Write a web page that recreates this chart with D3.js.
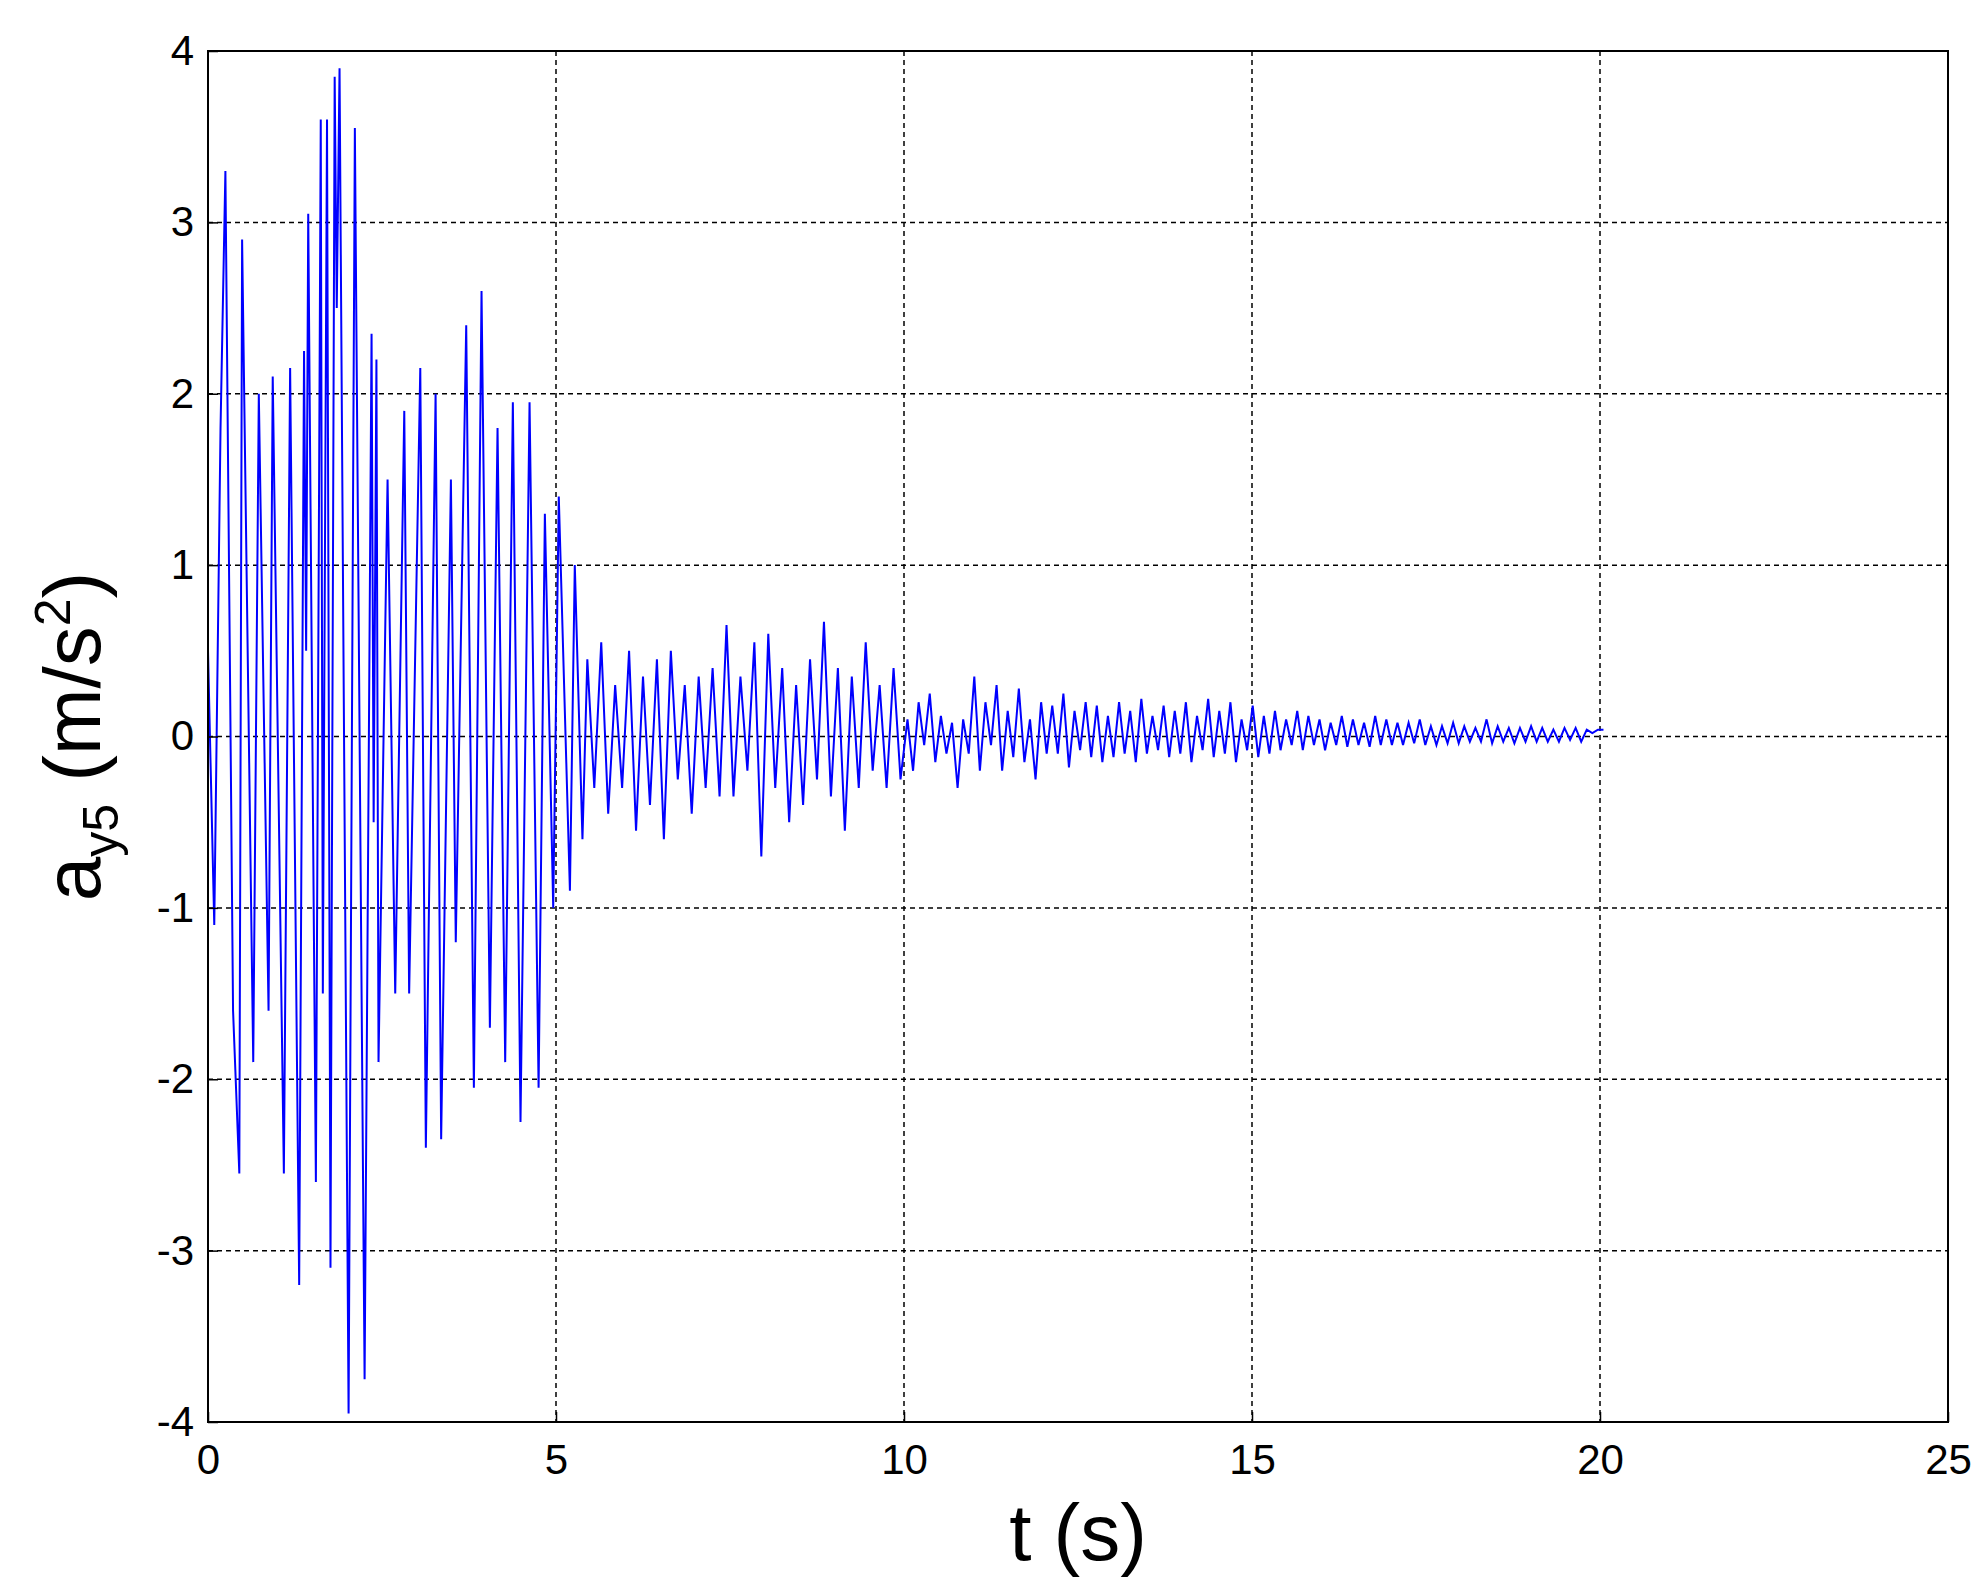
<!DOCTYPE html>
<html><head><meta charset="utf-8">
<script src="https://cdn.jsdelivr.net/npm/d3@7"></script>
<style>body{margin:0;background:#fff}</style></head>
<body><svg id="c" width="1986" height="1586"></svg>
<script>
const xTicks=[0,5,10,15,20,25];
const yTicks=[-4,-3,-2,-1,0,1,2,3,4];
// early strong phase (time, value) of extremes
const t1=[0,.09,.18,.25,.36,.45,.49,.65,.73,.87,.93,1.09,1.18,1.31,1.38,1.41,1.44,1.55,1.62,1.65,1.71,1.76,1.82,1.85,1.89,2.02,2.11,2.25,2.35,2.38,2.42,2.45,2.58,2.69,2.82,2.89,3.05,3.13,3.27,3.35,3.49,3.56,3.71,3.82,3.93,4.05,4.16,4.27,4.38,4.49,4.62,4.75,4.84,4.96,5.04,5.2,5.27,5.38];
const v1=[0.5,-1.1,1.8,3.3,-1.6,-2.55,2.9,-1.9,2.0,-1.6,2.1,-2.55,2.15,-3.2,2.25,0.5,3.05,-2.6,3.6,-1.5,3.6,-3.1,3.85,2.5,3.9,-3.95,3.55,-3.75,2.35,-0.5,2.2,-1.9,1.5,-1.5,1.9,-1.5,2.15,-2.4,2.0,-2.35,1.5,-1.2,2.4,-2.05,2.6,-1.7,1.8,-1.9,1.95,-2.25,1.95,-2.05,1.3,-1.0,1.4,-0.9,1.0,-0.6];
// decaying phase, 5.45 s to 10 s, step 0.1 s
const start2=5.45, step2=0.1;
const v2=[0.45,-0.3,0.55,-0.45,0.3,-0.3,0.5,-0.55,0.35,-0.4,0.45,-0.6,0.5,-0.25,0.3,-0.45,0.35,-0.3,0.4,-0.35,0.65,-0.35,0.35,-0.2,0.55,-0.7,0.6,-0.3,0.4,-0.5,0.3,-0.4,0.45,-0.25,0.67,-0.35,0.4,-0.55,0.35,-0.3,0.55,-0.2,0.3,-0.3,0.4,-0.25];
// tail, 10 s to 20.2 s, step 0.08 s
const start3=10.05, step3=0.08;
const v3=[0.1,-0.2,0.2,-0.05,0.25,-0.15,0.12,-0.1,0.08,-0.3,0.1,-0.1,0.35,-0.2,0.2,-0.05,0.3,-0.2,0.15,-0.12,0.28,-0.15,0.1,-0.25,0.2,-0.1,0.18,-0.1,0.25,-0.18,0.15,-0.08,0.2,-0.12,0.18,-0.15,0.12,-0.12,0.2,-0.1,0.15,-0.15,0.22,-0.1,0.12,-0.08,0.18,-0.12,0.15,-0.1,0.2,-0.15,0.12,-0.08,0.22,-0.12,0.15,-0.1,0.2,-0.15,0.1,-0.08,0.18,-0.12,0.12,-0.1,0.15,-0.08,0.1,-0.05,0.15,-0.08,0.12,-0.05,0.1,-0.08,0.08,-0.05,0.12,-0.06,0.1,-0.05,0.08,-0.06,0.12,-0.05,0.1,-0.05,0.08,-0.05,0.08,-0.04,0.1,-0.05,0.06,-0.05,0.06,-0.04,0.08,-0.04,0.06,-0.03,0.05,-0.03,0.1,-0.04,0.06,-0.03,0.05,-0.04,0.05,-0.03,0.06,-0.03,0.05,-0.03,0.04,-0.03,0.05,-0.02,0.05,-0.03,0.04,0.02,0.04,0.04];

const data=[];
t1.forEach((t,i)=>data.push([t,v1[i]]));
v2.forEach((v,i)=>data.push([start2+i*step2,v]));
v3.forEach((v,i)=>data.push([start3+i*step3,v]));

const svg=d3.select("#c");
const L=208,R=1948,T=51,B=1422;
const x=d3.scaleLinear().domain([0,25]).range([L,R]);
const y=d3.scaleLinear().domain([-4,4]).range([B,T]);
const g=svg.append("g");
g.selectAll(".gx").data(xTicks.slice(1,-1)).join("line").attr("x1",d=>x(d)).attr("x2",d=>x(d)).attr("y1",T).attr("y2",B).attr("stroke","#000").attr("stroke-width",1.5).attr("stroke-dasharray","5,4");
g.selectAll(".gy").data(yTicks.slice(1,-1)).join("line").attr("y1",d=>y(d)).attr("y2",d=>y(d)).attr("x1",L).attr("x2",R).attr("stroke","#000").attr("stroke-width",1.5).attr("stroke-dasharray","5,4");
svg.append("path").datum(data).attr("fill","none").attr("stroke","#0000ff").attr("stroke-width",2)
 .attr("d",d3.line().x(d=>x(d[0])).y(d=>y(d[1])));
svg.append("rect").attr("x",L).attr("y",T).attr("width",R-L).attr("height",B-T).attr("fill","none").attr("stroke","#000").attr("stroke-width",2);
const xa=svg.append("g").attr("transform",`translate(0,${B})`).call(d3.axisBottom(x).tickValues(xTicks).tickSize(-10).tickPadding(22).tickFormat(d=>String(d)));
const ya=svg.append("g").attr("transform",`translate(${L},0)`).call(d3.axisLeft(y).tickValues(yTicks).tickSize(-10).tickPadding(14).tickFormat(d=>String(d)));
[xa,ya].forEach(a=>{a.select(".domain").remove();a.selectAll("line").attr("stroke","#000").attr("stroke-width",1.5);a.selectAll("text").attr("font-family","Liberation Sans, Arial").attr("font-size",42).attr("fill","#000");});
svg.append("text").attr("x",x(12.5)).attr("y",1560).attr("text-anchor","middle").attr("font-family","Liberation Sans, Arial").attr("font-size",80).text("t (s)");
const yl=svg.append("text").attr("transform",`translate(100,${y(0)}) rotate(-90)`).attr("text-anchor","middle").attr("font-family","Liberation Sans, Arial").attr("font-size",80);
yl.append("tspan").text("a");
yl.append("tspan").attr("font-size",50).attr("dy",18).text("y5");
yl.append("tspan").attr("dy",-18).text(" (m/s");
yl.append("tspan").attr("font-size",50).attr("dy",-30).text("2");
yl.append("tspan").attr("dy",30).text(")");
</script></body></html>
